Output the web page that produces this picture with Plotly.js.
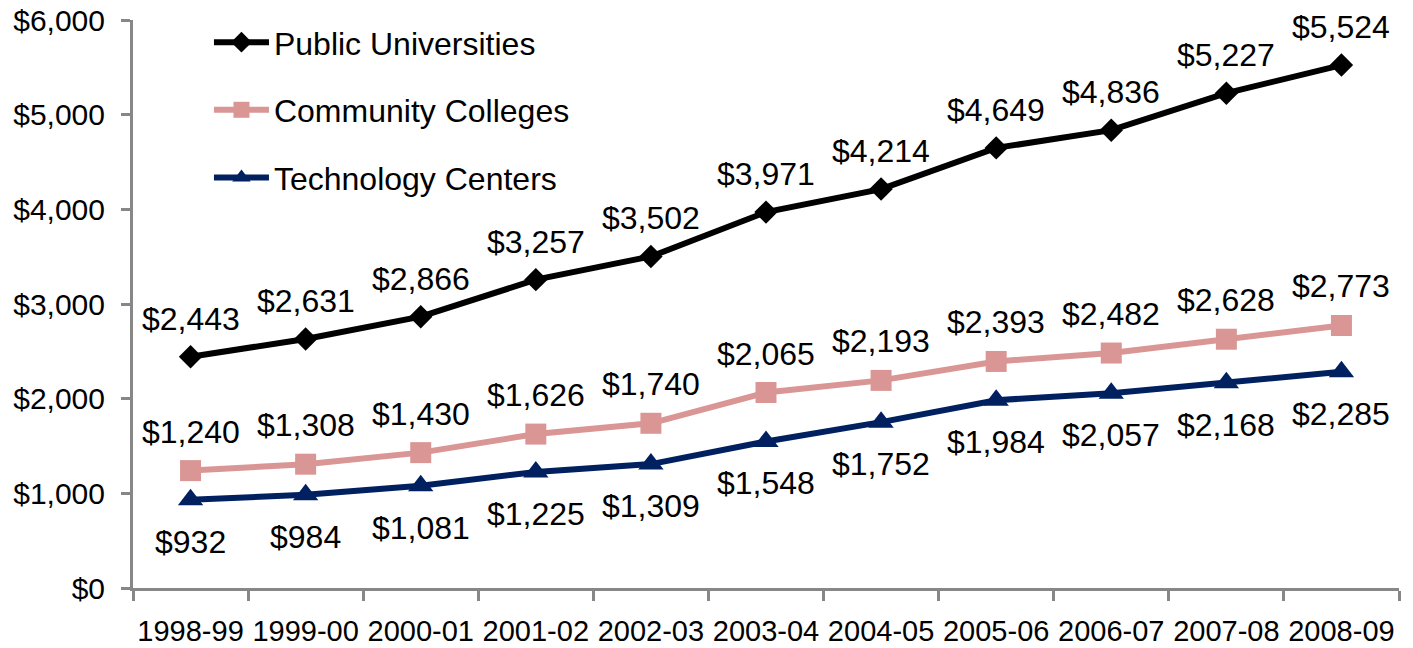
<!DOCTYPE html>
<html>
<head>
<meta charset="utf-8">
<script src="https://cdn.plot.ly/plotly-3.0.1.min.js"></script>
<style>html,body{margin:0;padding:0;background:#fff;}#chart{width:1413px;height:648px;}</style>
</head>
<body>
<div id="chart"></div>
<script>
const years = ["1998-99","1999-00","2000-01","2001-02","2002-03","2003-04","2004-05","2005-06","2006-07","2007-08","2008-09"];
const publicUniversities = [2443,2631,2866,3257,3502,3971,4214,4649,4836,5227,5524];
const communityColleges = [1240,1308,1430,1626,1740,2065,2193,2393,2482,2628,2773];
const technologyCenters = [932,984,1081,1225,1309,1548,1752,1984,2057,2168,2285];
const yTickVals = [0,1000,2000,3000,4000,5000,6000];
const yTickText = ["$0","$1,000","$2,000","$3,000","$4,000","$5,000","$6,000"];

const fmt = v => "$" + v.toLocaleString("en-US");
const FONT = "Liberation Sans, Arial, sans-serif";

function series(name, vals, color, symbol, msize, group) {
  return {
    type: "scatter", mode: "lines+markers",
    name: name, x: years, y: vals,
    line: {color: color, width: 6},
    marker: {symbol: symbol, size: msize, color: color},
    legendgroup: group, cliponaxis: false
  };
}

const data = [
  series("Public Universities", publicUniversities, "#000000", "diamond", 18, "a"),
  series("Community Colleges", communityColleges, "#D99694", "square", 21, "b"),
  series("Technology Centers", technologyCenters, "#002060", "triangle-up", 22, "c")
];

function labels(vals, shift) {
  return vals.map((v, i) => ({
    x: years[i], y: v, xref: "x", yref: "y", text: fmt(v), showarrow: false,
    xanchor: "center", yanchor: "middle", yshift: shift,
    font: {family: FONT, size: 32, color: "#000"}
  }));
}

const annotations = [].concat(
  labels(publicUniversities, 38),
  labels(communityColleges, 39),
  labels(technologyCenters, -42)
);

const layout = {
  width: 1413, height: 648,
  margin: {l: 133, r: 14, t: 20, b: 60},
  paper_bgcolor: "#fff", plot_bgcolor: "#fff",
  font: {family: FONT, color: "#000"},
  showlegend: true,
  annotations: annotations,
  legend: {x: 0.06, y: 1.009, xanchor: "left", yanchor: "top",
           font: {family: FONT, size: 32, color: "#000"},
           tracegroupgap: 23, itemwidth: 55, bgcolor: "rgba(0,0,0,0)"},
  xaxis: {type: "category", range: [-0.5, 10.5], tickson: "boundaries",
          ticks: "outside", ticklen: 10, tickwidth: 3, tickcolor: "#878787",
          showline: true, linecolor: "#878787", linewidth: 3, tickangle: 0,
          showgrid: false, zeroline: false, ticklabelstandoff: 15,
          tickfont: {family: FONT, size: 29, color: "#000"}},
  yaxis: {range: [0, 6000], tickvals: yTickVals, ticktext: yTickText,
          ticks: "outside", ticklen: 9, tickwidth: 3, tickcolor: "#878787",
          showline: true, linecolor: "#878787", linewidth: 3,
          showgrid: false, zeroline: false, ticklabelstandoff: 10,
          tickfont: {family: FONT, size: 30, color: "#000"}}
};

Plotly.newPlot("chart", data, layout, {displayModeBar: false, staticPlot: true});
</script>
</body>
</html>
